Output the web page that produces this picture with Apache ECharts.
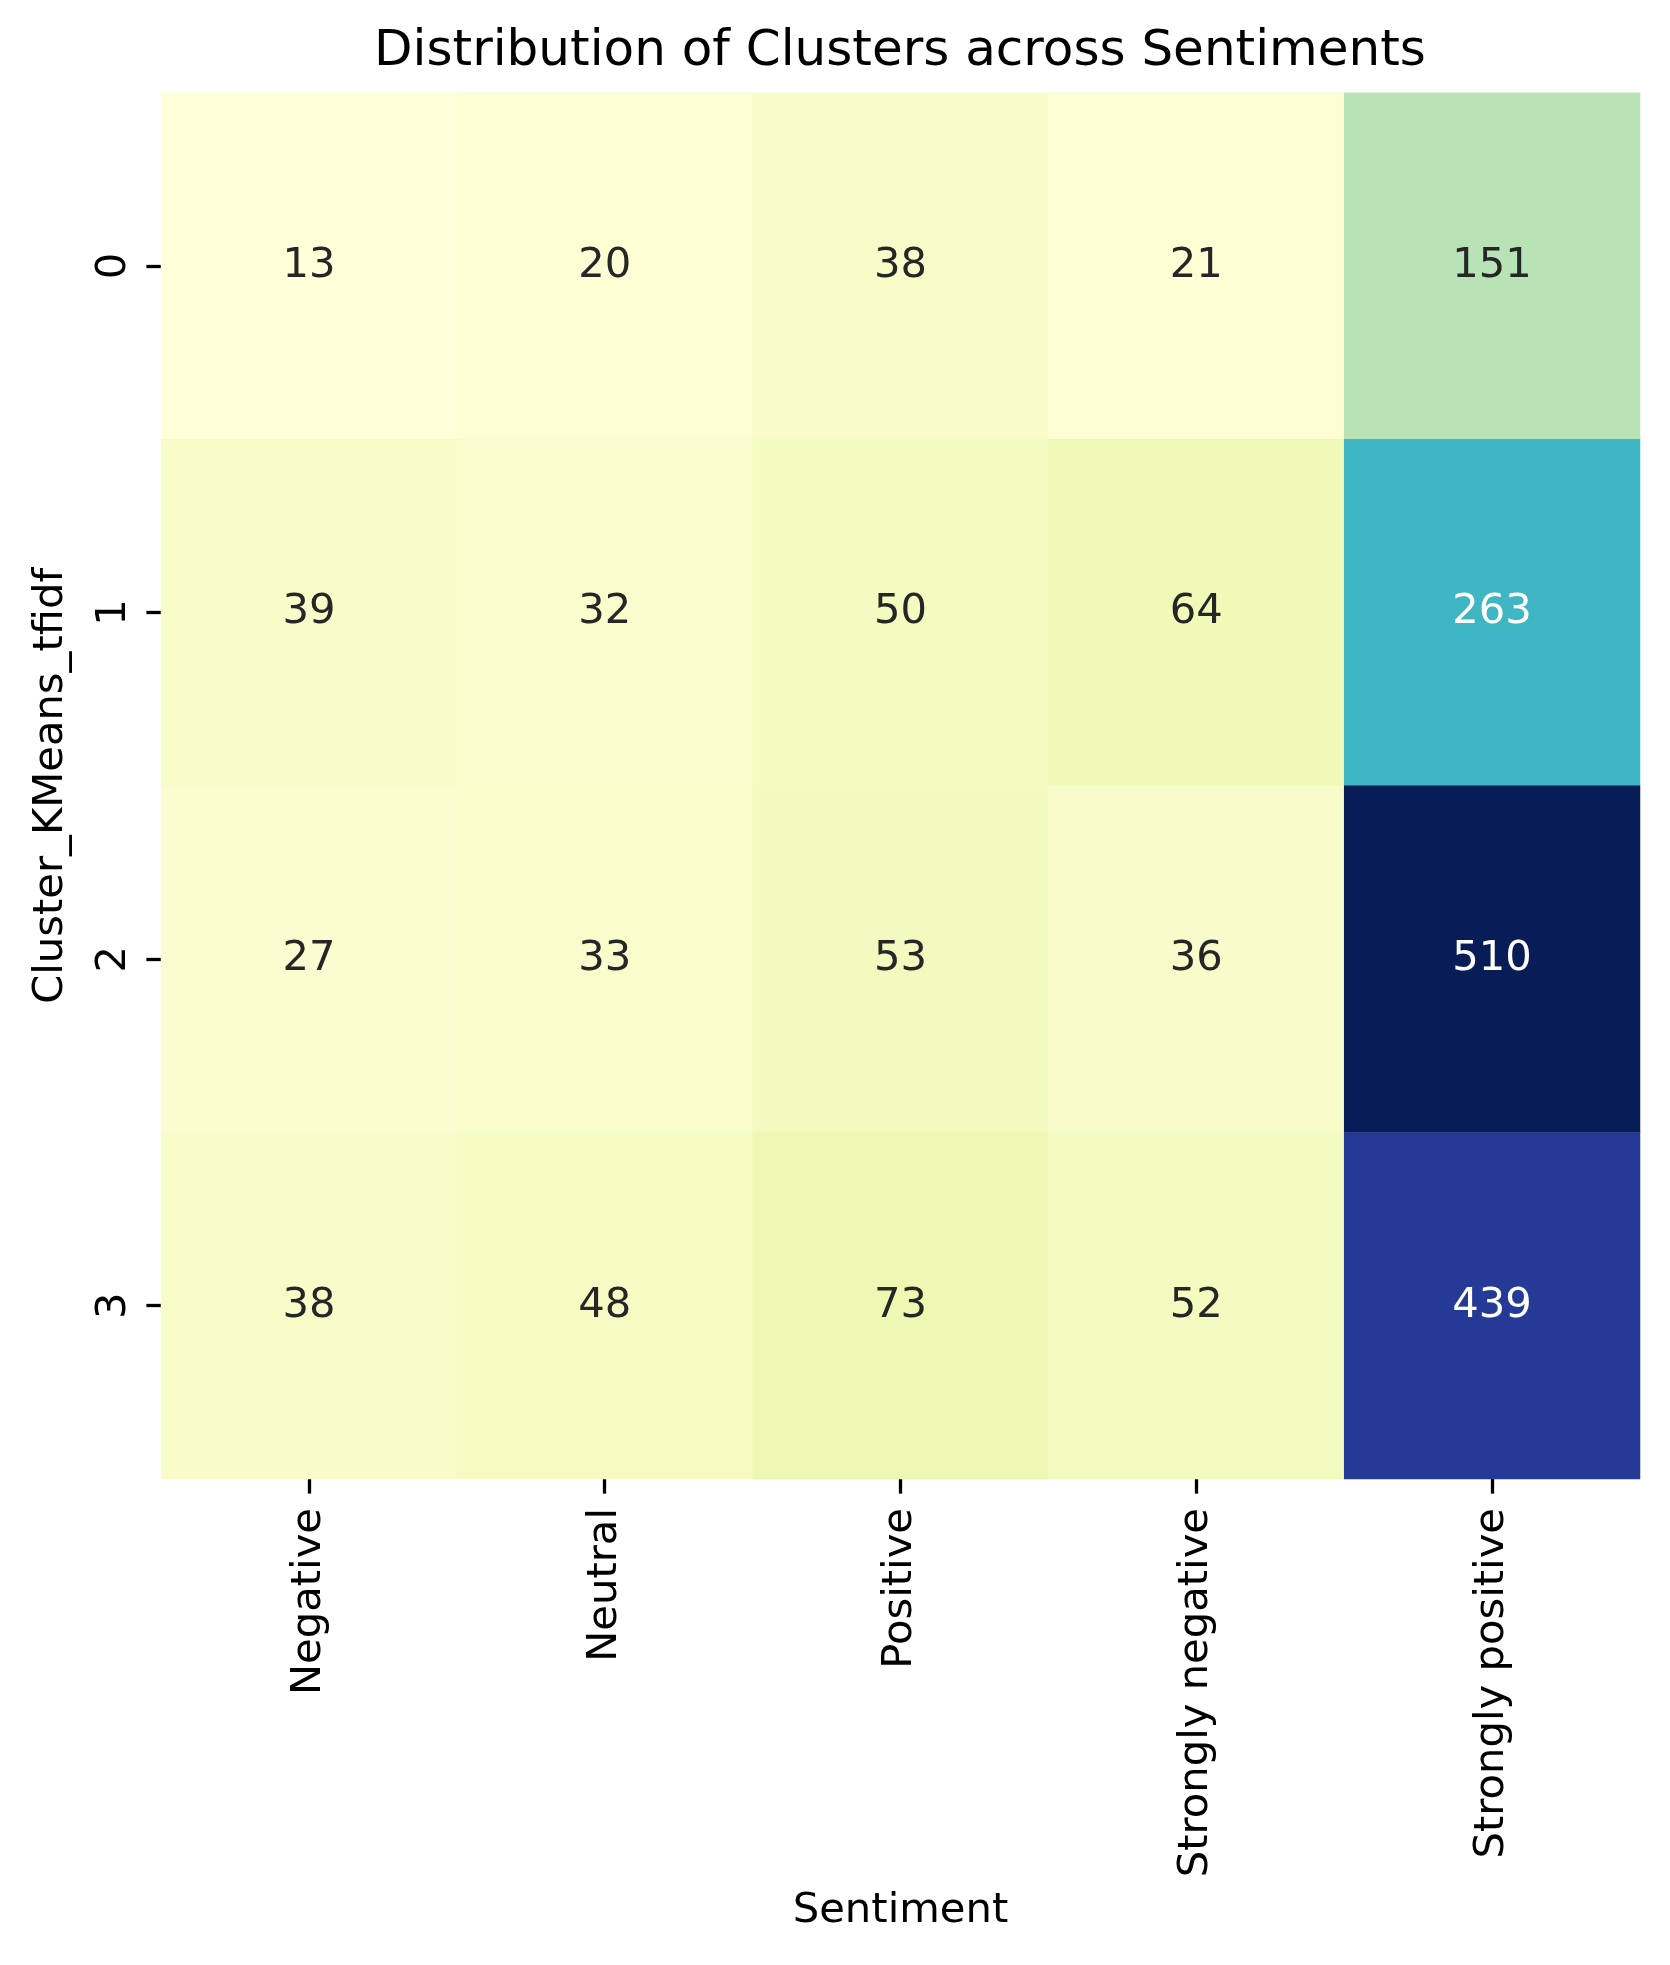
<!DOCTYPE html>
<html>
<head>
<meta charset="utf-8">
<script src="https://cdn.jsdelivr.net/npm/echarts@6/dist/echarts.min.js"></script>
<style>
html,body{margin:0;padding:0;background:#fff;}
#chart{width:1670px;height:1965px;}
</style>
</head>
<body>
<div id="chart"></div>
<script>
// ---- data ----
const sentiments = ['Negative', 'Neutral', 'Positive', 'Strongly negative', 'Strongly positive'];
const clusters = ['0', '1', '2', '3'];
const cluster0 = [13, 20, 38, 21, 151];
const cluster1 = [39, 32, 50, 64, 263];
const cluster2 = [27, 33, 53, 36, 510];
const cluster3 = [38, 48, 73, 52, 439];
const clusterRows = [cluster0, cluster1, cluster2, cluster3];

// YlGnBu colormap stops
const ylgnbu = ['#ffffd9', '#edf8b1', '#c7e9b4', '#7fcdbb', '#41b6c4', '#1d91c0', '#225ea8', '#253494', '#081d58'];

const allVals = clusterRows.flat();
const vmin = Math.min(...allVals);
const vmax = Math.max(...allVals);

function hexToRgb(h) {
  return [parseInt(h.slice(1, 3), 16), parseInt(h.slice(3, 5), 16), parseInt(h.slice(5, 7), 16)];
}
function cmap(v) {
  const t = Math.max(0, Math.min(1, (v - vmin) / (vmax - vmin))) * (ylgnbu.length - 1);
  const i = Math.min(Math.floor(t), ylgnbu.length - 2);
  const f = t - i;
  const a = hexToRgb(ylgnbu[i]), b = hexToRgb(ylgnbu[i + 1]);
  return a.map((c, k) => c + (b[k] - c) * f);
}
function luminance(rgb) {
  const lin = rgb.map(c => {
    c = c / 255;
    return c <= 0.03928 ? c / 12.92 : Math.pow((c + 0.055) / 1.055, 2.4);
  });
  return 0.2126 * lin[0] + 0.7152 * lin[1] + 0.0722 * lin[2];
}

const heatData = [];
clusterRows.forEach((row, yi) => {
  row.forEach((v, xi) => {
    const dark = luminance(cmap(v)) <= 0.408;
    heatData.push({ value: [xi, yi, v], label: { color: dark ? '#ffffff' : '#262626' } });
  });
});

const FONT = 'DejaVu Sans';
const chart = echarts.init(document.getElementById('chart'), null, { renderer: 'canvas' });
chart.setOption({
  backgroundColor: '#ffffff',
  animation: false,
  title: {
    text: 'Distribution of Clusters across Sentiments',
    left: 895,
    top: 22,
    textAlign: 'center',
    textStyle: { fontFamily: FONT, fontSize: 50, fontWeight: 'normal', color: '#000000' }
  },
  grid: { left: 161, right: 30, top: 92.7, bottom: 486, containLabel: false },
  xAxis: {
    type: 'category',
    data: sentiments,
    name: 'Sentiment',
    nameLocation: 'middle',
    nameGap: 411,
    nameTextStyle: { fontFamily: FONT, fontSize: 41.7, color: '#000000' },
    axisLine: { show: false },
    axisTick: { show: true, alignWithLabel: true, length: 14.6, lineStyle: { color: '#000000', width: 3.3 } },
    axisLabel: { rotate: 90, margin: 29, fontFamily: FONT, fontSize: 41.7, color: '#000000' },
    splitArea: { show: false },
    splitLine: { show: false }
  },
  yAxis: {
    type: 'category',
    data: clusters,
    inverse: true,
    name: 'Cluster_KMeans_tfidf',
    nameLocation: 'middle',
    nameGap: 89,
    nameTextStyle: { fontFamily: FONT, fontSize: 41.7, color: '#000000' },
    axisLine: { show: false },
    axisTick: { show: true, alignWithLabel: true, length: 14.6, lineStyle: { color: '#000000', width: 3.3 } },
    axisLabel: { rotate: 90, margin: 26, fontFamily: FONT, fontSize: 41.7, color: '#000000' },
    splitArea: { show: false },
    splitLine: { show: false }
  },
  visualMap: {
    show: false,
    min: vmin,
    max: vmax,
    dimension: 2,
    inRange: { color: ylgnbu }
  },
  series: [{
    type: 'heatmap',
    data: heatData,
    label: { show: true, fontFamily: FONT, fontSize: 41.7 },
    itemStyle: { borderWidth: 0 },
    emphasis: { disabled: true }
  }]
});
</script>
</body>
</html>
